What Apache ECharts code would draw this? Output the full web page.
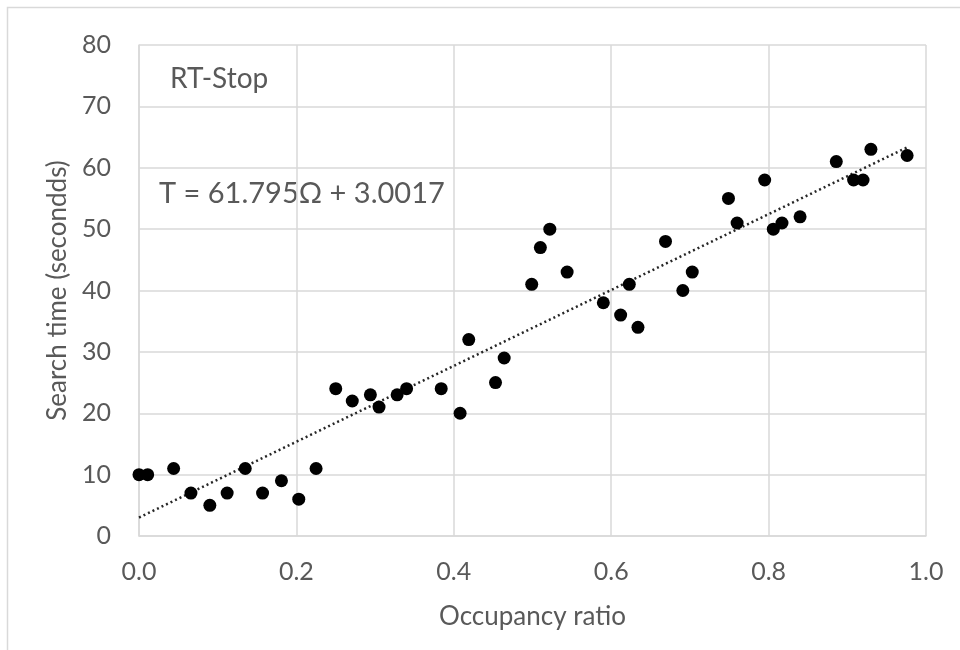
<!DOCTYPE html>
<html>
<head>
<meta charset="utf-8">
<script src="https://cdn.jsdelivr.net/npm/echarts@6/dist/echarts.min.js"></script>
<style>
  html, body { margin: 0; padding: 0; background: #fff; }
  #main { width: 960px; height: 650px; }
</style>
</head>
<body>
<div id="main"></div>
<script>
// occupancy ratio (x) and search time in seconds (y)
const occupancy = [0.000, 0.011, 0.044, 0.066, 0.090, 0.112, 0.135, 0.157, 0.181, 0.203, 0.225,
  0.250, 0.271, 0.294, 0.305, 0.328, 0.340, 0.384, 0.408, 0.419, 0.453, 0.464,
  0.499, 0.510, 0.522, 0.544, 0.590, 0.612, 0.623, 0.634, 0.669, 0.691, 0.703,
  0.749, 0.760, 0.795, 0.806, 0.817, 0.840, 0.886, 0.908, 0.920, 0.930, 0.976];
const searchTime = [10, 10, 11, 7, 5, 7, 11, 7, 9, 6, 11,
  24, 22, 23, 21, 23, 24, 24, 20, 32, 25, 29,
  41, 47, 50, 43, 38, 36, 41, 34, 48, 40, 43,
  55, 51, 58, 50, 51, 52, 61, 58, 58, 63, 62];

// linear trendline from the equation printed on the chart
const slope = 61.795;
const intercept = 3.0017;

const points = occupancy.map((x, i) => [x, searchTime[i]]);
const xMin = Math.min(...occupancy);
const xMax = Math.max(...occupancy);
const trend = [[xMin, slope * xMin + intercept], [xMax, slope * xMax + intercept]];

const textColor = '#595959';
const gridColor = '#d9d9d9';
const font = 'Lato, "Open Sans", sans-serif';

let myChart = echarts.init(document.getElementById('main'));
myChart.setOption({
  animation: false,
  textStyle: { fontFamily: font },
  grid: { left: 139, right: 34, top: 45, bottom: 114 },
  xAxis: {
    type: 'value',
    min: 0,
    max: 1,
    interval: 0.2,
    name: 'Occupancy ratio',
    nameLocation: 'middle',
    nameGap: 68,
    nameTextStyle: { color: textColor, fontSize: 26, fontFamily: font },
    axisLine: { show: true, lineStyle: { color: gridColor, width: 1.5 } },
    axisTick: { show: false },
    splitLine: { show: true, lineStyle: { color: gridColor, width: 1.5 } },
    axisLabel: {
      color: textColor,
      fontSize: 25,
      fontFamily: font,
      margin: 23,
      formatter: v => v.toFixed(1)
    }
  },
  yAxis: {
    type: 'value',
    min: 0,
    max: 80,
    interval: 10,
    name: 'Search time (secondds)',
    nameLocation: 'middle',
    nameGap: 66,
    nameTextStyle: { color: textColor, fontSize: 26, fontFamily: font },
    axisLine: { show: true, lineStyle: { color: gridColor, width: 1.5 } },
    axisTick: { show: false },
    splitLine: { show: true, lineStyle: { color: gridColor, width: 1.5 } },
    axisLabel: { color: textColor, fontSize: 25, fontFamily: font, margin: 28 }
  },
  graphic: [
    {
      type: 'rect',
      silent: true,
      shape: { x: 7.5, y: 7.5, width: 1200, height: 1200 },
      style: { fill: 'none', stroke: gridColor, lineWidth: 1.5 }
    },
    {
      type: 'text',
      left: 170,
      top: 65,
      style: { text: 'RT-Stop', fill: textColor, fontSize: 28, fontFamily: font }
    },
    {
      type: 'text',
      left: 159,
      top: 179,
      style: { text: 'T = 61.795Ω + 3.0017', fill: textColor, fontSize: 29, fontFamily: font }
    }
  ],
  series: [
    {
      type: 'line',
      data: trend,
      symbol: 'none',
      silent: true,
      lineStyle: { color: '#262626', width: 2.5, type: [2, 3] },
      z: 2
    },
    {
      type: 'scatter',
      data: points,
      symbol: 'circle',
      symbolSize: 13,
      itemStyle: { color: '#000', opacity: 1 },
      z: 3
    }
  ]
});
</script>
</body>
</html>
